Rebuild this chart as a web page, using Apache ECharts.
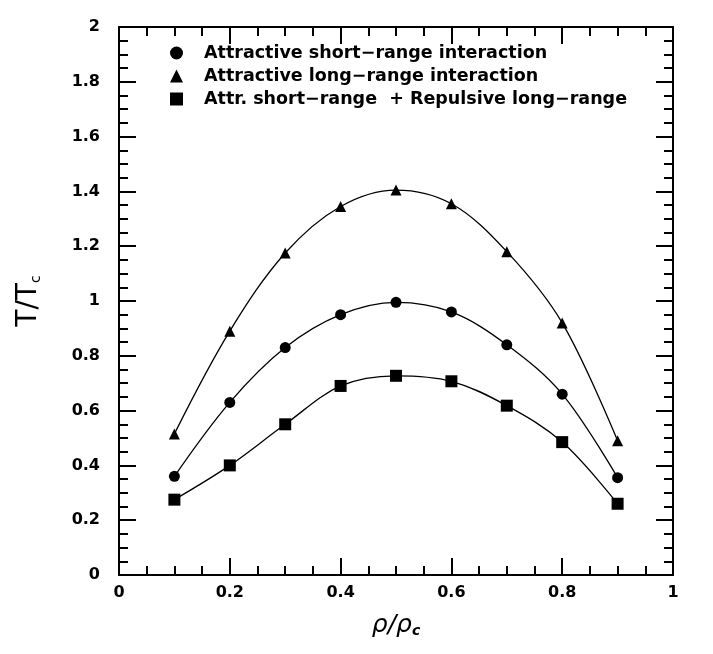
<!DOCTYPE html>
<html><head><meta charset="utf-8">
<script src="https://cdn.jsdelivr.net/npm/echarts@6/dist/echarts.min.js"></script>
<style>html,body{margin:0;padding:0;background:#fff}#c{width:713px;height:654px}</style>
</head><body><div id="c"></div>
<script>
const xValues = [0.1, 0.2, 0.3, 0.4, 0.5, 0.6, 0.7, 0.8, 0.9];
const shortRange = [0.36, 0.63, 0.83, 0.95, 0.995, 0.96, 0.84, 0.66, 0.355];
const longRange = [0.515, 0.89, 1.175, 1.345, 1.405, 1.355, 1.18, 0.92, 0.49];
const mixedRange = [0.275, 0.40, 0.55, 0.69, 0.727, 0.707, 0.618, 0.485, 0.26];
const seriesNames = ['Attractive short\u2212range interaction', 'Attractive long\u2212range interaction', 'Attr. short\u2212range  + Repulsive long\u2212range'];

const font = 'DejaVu Sans, Liberation Sans, sans-serif';
const chart = echarts.init(document.getElementById('c'));
function pts(ys){ return xValues.map((x,i)=>[x, ys[i]]); }
function mk(name, ys, symbol, size){
  return {name, type:'line', data:pts(ys), smooth:0.35, symbol, symbolSize:size,
    lineStyle:{color:'#000', width:1.3}, itemStyle:{color:'#000'}, z:3};
}
function axisCommon(){ return {
  axisLine:{show:true, onZero:false, lineStyle:{color:'#000', width:2}},
  axisTick:{show:true, inside:true, length:17, lineStyle:{color:'#000', width:2}},
  minorTick:{show:true, splitNumber:4, length:9, lineStyle:{color:'#000', width:2}},
  splitLine:{show:false}
};}
chart.setOption({
  animation:false,
  backgroundColor:'#fff',
  grid:{left:119, right:40, top:27, bottom:79},
  legend:{
    orient:'vertical', left:165, top:39, itemGap:5, itemWidth:13, itemHeight:13,
    textStyle:{fontFamily:font, fontSize:17.5, fontWeight:'bold', color:'#000', padding:[0,0,0,16]},
    data:[{name:seriesNames[0], icon:'circle'},{name:seriesNames[1], icon:'triangle'},{name:seriesNames[2], icon:'rect'}]
  },
  xAxis:[
    Object.assign({type:'value', min:0, max:1, interval:0.2, position:'bottom',
      name:'\u03c1/\u03c1{s|c}', nameLocation:'middle', nameGap:38,
      nameTextStyle:{fontFamily:font, fontSize:25, fontStyle:'italic', color:'#000', rich:{s:{fontSize:14, fontWeight:'bold', fontFamily:font, verticalAlign:'bottom', padding:[10,0,0,0]}}},
      axisLabel:{fontFamily:font, fontSize:16, fontWeight:'bold', color:'#000', margin:10}}, axisCommon()),
    Object.assign({type:'value', min:0, max:1, interval:0.2, position:'top', axisLabel:{show:false}}, axisCommon())
  ],
  yAxis:[
    Object.assign({type:'value', min:0, max:2, interval:0.2, position:'left',
      name:'T/T{s|c}', nameLocation:'middle', nameGap:76, nameRotate:90,
      nameTextStyle:{fontFamily:font, fontSize:28, color:'#000', rich:{s:{fontSize:14, fontFamily:font, verticalAlign:'bottom', padding:[12,0,0,0]}}},
      axisLabel:{fontFamily:font, fontSize:16, fontWeight:'bold', color:'#000', margin:19}}, axisCommon()),
    Object.assign({type:'value', min:0, max:2, interval:0.2, position:'right', axisLabel:{show:false}}, axisCommon())
  ],
  series:[
    mk(seriesNames[0], shortRange, 'circle', 11),
    mk(seriesNames[1], longRange, 'triangle', 11),
    mk(seriesNames[2], mixedRange, 'rect', 12)
  ]
});
</script></body></html>
